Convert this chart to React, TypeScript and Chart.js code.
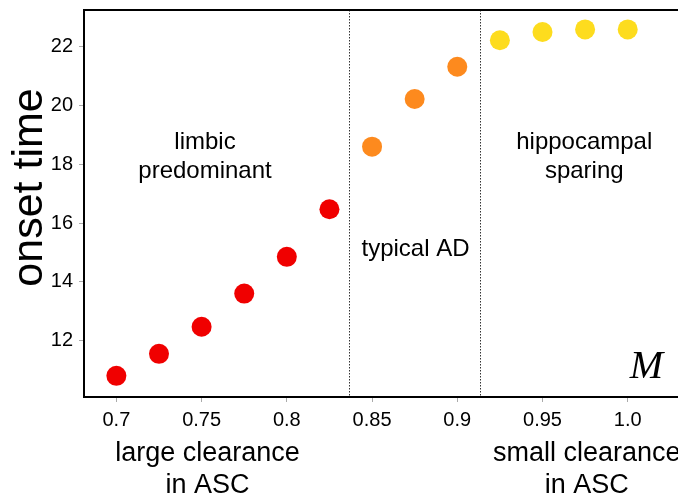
import React, { useEffect, useRef } from "react";
import { Chart, registerables } from "chart.js";

Chart.register(...registerables);

const clearance = [0.7, 0.725, 0.75, 0.775, 0.8, 0.825, 0.85, 0.875, 0.9, 0.925, 0.95, 0.975, 1.0];
const onsetTime = [10.8, 11.55, 12.47, 13.6, 14.85, 16.47, 18.6, 20.22, 21.32, 22.22, 22.5, 22.59, 22.59];
const pointColors = [
  "#f00000", "#f00000", "#f00000", "#f00000", "#f00000", "#f00000",
  "#fd8a1e", "#fd8a1e", "#fd8a1e",
  "#fddc1e", "#fddc1e", "#fddc1e", "#fddc1e",
];
const xTickValues = [0.7, 0.75, 0.8, 0.85, 0.9, 0.95, 1.0];
const xTickLabels = ["0.7", "0.75", "0.8", "0.85", "0.9", "0.95", "1.0"];
const yTickValues = [12, 14, 16, 18, 20, 22];
const yTickLabels = ["12", "14", "16", "18", "20", "22"];
const regionBoundaries = [0.8364, 0.9136];
const regionLabels = [
  { x: 0.752, y: 18.25, lines: ["limbic", "predominant"] },
  { x: 0.8755, y: 15.12, lines: ["typical AD"] },
  { x: 0.9745, y: 18.25, lines: ["hippocampal", "sparing"] },
];
const xEndLabels = [
  { x: 0.7535, lines: ["large clearance", "in ASC"] },
  { x: 0.976, lines: ["small clearance", "in ASC"] },
];
const panelLetter = "M";
const yTitle = "onset time";

const SANS = "'Liberation Sans', Arial, sans-serif";

const overlayPlugin = {
  id: "overlay",
  beforeDatasetsDraw(chart: any) {
    const { ctx, chartArea, scales } = chart;
    ctx.save();
    ctx.strokeStyle = "#333";
    ctx.lineWidth = 1;
    ctx.setLineDash([1.5, 1.5]);
    regionBoundaries.forEach((b) => {
      const px = Math.round(scales.x.getPixelForValue(b)) + 0.5;
      ctx.beginPath();
      ctx.moveTo(px, chartArea.top);
      ctx.lineTo(px, chartArea.bottom);
      ctx.stroke();
    });
    ctx.setLineDash([]);
    ctx.strokeStyle = "#000";
    ctx.lineWidth = 2;
    ctx.beginPath();
    ctx.moveTo(chartArea.left - 1, chartArea.top);
    ctx.lineTo(chart.width, chartArea.top);
    ctx.stroke();

    ctx.fillStyle = "#000";
    ctx.textAlign = "center";
    ctx.textBaseline = "middle";
    ctx.font = `24px ${SANS}`;
    regionLabels.forEach((r) => {
      const px = scales.x.getPixelForValue(r.x);
      const py = scales.y.getPixelForValue(r.y);
      const n = r.lines.length;
      r.lines.forEach((l, i) => {
        ctx.fillText(l, px, py + (i - (n - 1) / 2) * 29);
      });
    });
    ctx.restore();
  },
  afterDraw(chart: any) {
    const { ctx, chartArea, scales } = chart;
    ctx.save();
    ctx.fillStyle = "#000";
    ctx.textAlign = "center";
    ctx.textBaseline = "middle";
    ctx.font = `27px ${SANS}`;
    xEndLabels.forEach((r) => {
      const px = scales.x.getPixelForValue(r.x);
      r.lines.forEach((l, i) => {
        ctx.fillText(l, px, chartArea.bottom + 57 + i * 32);
      });
    });
    ctx.font = "italic 40px 'Liberation Serif', 'Times New Roman', serif";
    ctx.fillText(panelLetter, scales.x.getPixelForValue(1.011), scales.y.getPixelForValue(11.1));
    ctx.translate(30, (chartArea.top + chartArea.bottom) / 2 - 16);
    ctx.rotate(-Math.PI / 2);
    ctx.font = `43px ${SANS}`;
    ctx.fillText(yTitle, 0, 0);
    ctx.restore();
  },
};

export default function App() {
  const canvasRef = useRef<HTMLCanvasElement>(null);
  useEffect(() => {
    const chart = new Chart(canvasRef.current as HTMLCanvasElement, {
      type: "scatter",
      data: {
        datasets: [
          {
            data: clearance.map((x, i) => ({ x, y: onsetTime[i] })),
            pointRadius: 10,
            pointHoverRadius: 10,
            pointBackgroundColor: pointColors,
            pointBorderWidth: 0,
            borderWidth: 0,
          },
        ],
      },
      options: {
        animation: false,
        responsive: false,
        layout: { autoPadding: false, padding: { top: 10, right: 0, left: 0, bottom: 0 } },
        plugins: { legend: { display: false }, tooltip: { enabled: false } },
        scales: {
          x: {
            type: "linear",
            min: 0.681,
            max: 1.0295,
            afterFit(scale: any) {
              scale.height = 100;
              scale.paddingLeft = 0;
              scale.paddingRight = 0;
            },
            afterBuildTicks(scale: any) { scale.ticks = xTickValues.map((v) => ({ value: v })); },
            ticks: {
              font: { family: SANS, size: 20 },
              color: "#000",
              padding: 6,
              autoSkip: false,
              maxRotation: 0,
              callback: (v: any) => xTickLabels[xTickValues.findIndex((t) => Math.abs(t - v) < 1e-6)],
            },
            grid: { drawOnChartArea: false, drawTicks: true, tickLength: 5, tickColor: "#aaa" },
            border: { display: true, color: "#000", width: 2 },
          },
          y: {
            type: "linear",
            min: 10.08,
            max: 23.25,
            afterFit(scale: any) {
              scale.width = 84;
              scale.paddingTop = 0;
              scale.paddingBottom = 0;
            },
            afterBuildTicks(scale: any) { scale.ticks = yTickValues.map((v) => ({ value: v })); },
            ticks: {
              font: { family: SANS, size: 20 },
              color: "#000",
              padding: 6,
              callback: (v: any) => yTickLabels[yTickValues.findIndex((t) => Math.abs(t - v) < 1e-6)],
            },
            grid: { drawOnChartArea: false, drawTicks: true, tickLength: 5, tickColor: "#aaa" },
            border: { display: true, color: "#000", width: 2 },
          },
        },
      },
      plugins: [overlayPlugin],
    });
    return () => chart.destroy();
  }, []);
  return (
    <div style={{ position: "fixed", left: 0, top: 0, width: 678, height: 497, background: "#fff" }}>
      <canvas ref={canvasRef} width={678} height={497} style={{ width: 678, height: 497 }} />
    </div>
  );
}
